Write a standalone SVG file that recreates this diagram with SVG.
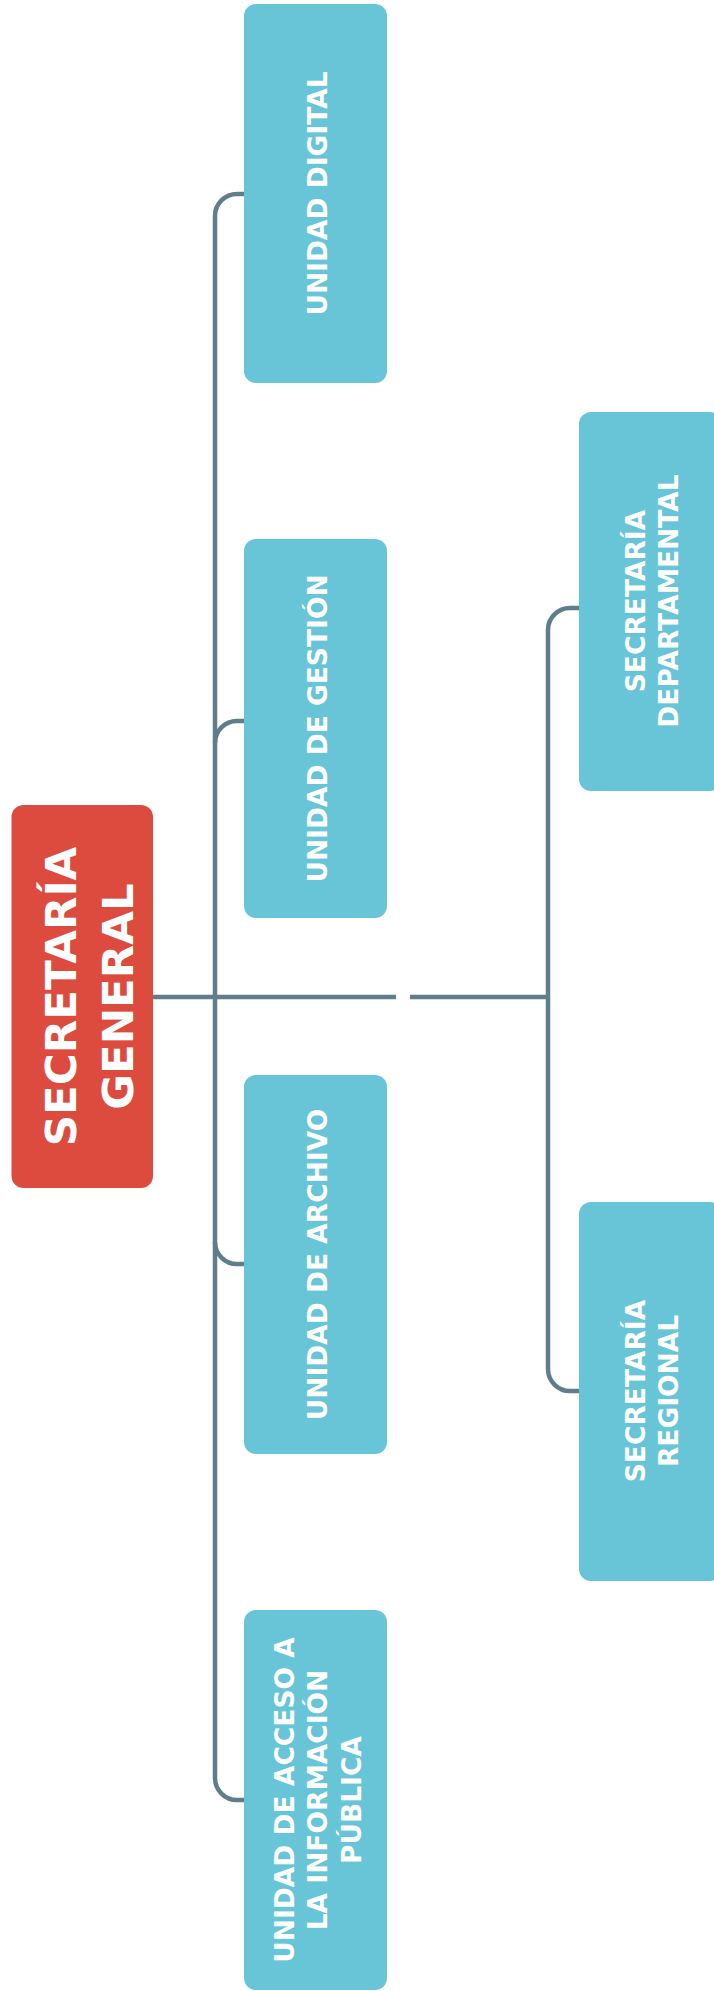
<svg xmlns="http://www.w3.org/2000/svg" width="714" height="1991" viewBox="0 0 714 1991">
<style>
.box{fill:#67C5D7}
.root{fill:#DD4B3E}
.t{font-family:"DejaVu Sans","Liberation Sans",sans-serif;font-weight:bold;fill:#FFFFFF;text-anchor:middle}
.s{font-size:26.5px}
.r{font-size:43.5px}
.c{fill:none;stroke:#607D8B;stroke-width:4.5;stroke-linecap:butt}
</style>
<rect x="0" y="0" width="714" height="1991" fill="#FFFFFF"/>
<g id="connectors">
<path class="c" d="M153,997 H396 M410,997 H548"/>
<path class="c" d="M215,216 V1778"/>
<path class="c" d="M215,216 A22,22 0 0 1 237,194 H245"/>
<path class="c" d="M215,743 A22,22 0 0 1 237,721 H245"/>
<path class="c" d="M215,1242 A22,22 0 0 0 237,1264 H245"/>
<path class="c" d="M215,1778 A22,22 0 0 0 237,1800 H245"/>
<path class="c" d="M548,630 V1369"/>
<path class="c" d="M548,630 A22,22 0 0 1 570,608 H580"/>
<path class="c" d="M548,1369 A22,22 0 0 0 570,1391 H580"/>
</g>
<g id="secretaria-general">
<rect class="root" x="11.5" y="805" width="141.5" height="383" rx="12"/>
<g transform="translate(82,996.5) rotate(-90)">
<text class="t r" x="0" y="-6">SECRETARÍA</text>
<text class="t r" x="0" y="51">GENERAL</text>
</g>
</g>
<g id="unidad-digital">
<rect class="box" x="244" y="4" width="143" height="379" rx="12"/>
<g transform="translate(315.5,193.5) rotate(-90)">
<text class="t s" x="0" y="11">UNIDAD DIGITAL</text>
</g>
</g>
<g id="unidad-gestion">
<rect class="box" x="244" y="539" width="143" height="379" rx="12"/>
<g transform="translate(315.5,728.5) rotate(-90)">
<text class="t s" x="0" y="11">UNIDAD DE GESTIÓN</text>
</g>
</g>
<g id="unidad-archivo">
<rect class="box" x="244" y="1075" width="143" height="379" rx="12"/>
<g transform="translate(315.5,1264.5) rotate(-90)">
<text class="t s" x="0" y="11">UNIDAD DE ARCHIVO</text>
</g>
</g>
<g id="unidad-acceso">
<rect class="box" x="244" y="1610" width="143" height="380" rx="12"/>
<g transform="translate(315.5,1800) rotate(-90)">
<text class="t s" x="0" y="-22">UNIDAD DE ACCESO A</text>
<text class="t s" x="0" y="11.5">LA INFORMACIÓN</text>
<text class="t s" x="0" y="45">PÚBLICA</text>
</g>
</g>
<g id="secretaria-departamental">
<rect class="box" x="579" y="412" width="143" height="379" rx="12"/>
<g transform="translate(650.5,601) rotate(-90)">
<text class="t s" x="0" y="-5.5">SECRETARÍA</text>
<text class="t s" x="0" y="27.5">DEPARTAMENTAL</text>
</g>
</g>
<g id="secretaria-regional">
<rect class="box" x="579" y="1202" width="143" height="379" rx="12"/>
<g transform="translate(650.5,1391) rotate(-90)">
<text class="t s" x="0" y="-5.5">SECRETARÍA</text>
<text class="t s" x="0" y="27.5">REGIONAL</text>
</g>
</g>
</svg>
